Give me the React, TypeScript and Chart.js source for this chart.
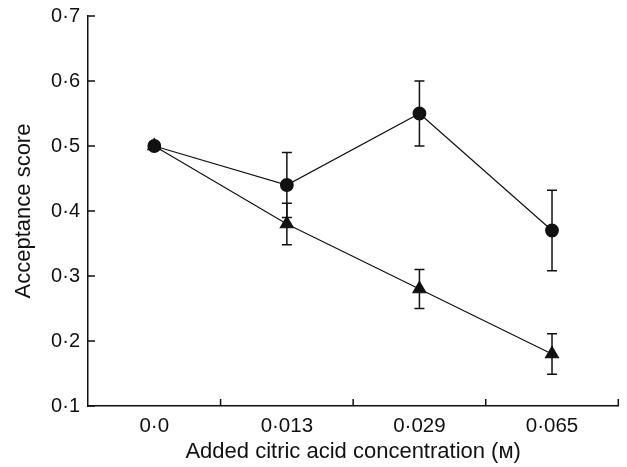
import React, { useEffect, useRef } from "react";
import { Chart, registerables } from "chart.js";

Chart.register(...registerables);

const categories = ["0·0", "0·013", "0·029", "0·065"];
const circleMeans = [0.5, 0.44, 0.55, 0.37];
const circleErrors = [0, 0.05, 0.05, 0.062];
const triangleMeans = [0.5, 0.38, 0.28, 0.18];
const triangleErrors = [0, 0.032, 0.03, 0.031];
const yMin = 0.1;
const yMax = 0.7;
const yStep = 0.1;

const FONT = "'Liberation Sans', Arial, Helvetica, sans-serif";
const INK = "#111";

const errorBarPlugin = {
  id: "errorBars",
  beforeDatasetsDraw(chart: any) {
    const { ctx } = chart;
    const yScale = chart.scales.y;
    const errs = [circleErrors, triangleErrors];
    ctx.save();
    ctx.strokeStyle = INK;
    ctx.lineWidth = 1.5;
    chart.data.datasets.forEach((ds: any, di: number) => {
      const meta = chart.getDatasetMeta(di);
      meta.data.forEach((pt: any, i: number) => {
        const e = errs[di][i];
        if (!e) return;
        const v = ds.data[i];
        const x = pt.x;
        const yt = yScale.getPixelForValue(v + e);
        const yb = yScale.getPixelForValue(v - e);
        const cap = 5;
        ctx.beginPath();
        ctx.moveTo(x, yt);
        ctx.lineTo(x, yb);
        ctx.moveTo(x - cap, yt);
        ctx.lineTo(x + cap, yt);
        ctx.moveTo(x - cap, yb);
        ctx.lineTo(x + cap, yb);
        ctx.stroke();
      });
    });
    ctx.restore();
  },
  afterDraw(chart: any) {
    const { ctx, chartArea } = chart;
    const x = chart.scales.x;
    const y = chart.scales.y;
    ctx.save();
    ctx.strokeStyle = INK;
    ctx.lineWidth = 1.5;
    ctx.beginPath();
    y.ticks.forEach((_t: any, i: number) => {
      const py = y.getPixelForTick(i);
      ctx.moveTo(chartArea.left, py);
      ctx.lineTo(chartArea.left + 7, py);
    });
    const n = categories.length;
    for (let i = 0; i < n; i++) {
      let px: number;
      if (i < n - 1) px = (x.getPixelForTick(i) + x.getPixelForTick(i + 1)) / 2;
      else px = chartArea.right;
      ctx.moveTo(px, chartArea.bottom);
      ctx.lineTo(px, chartArea.bottom - 7);
    }
    ctx.stroke();
    ctx.restore();
  },
};

export default function App() {
  const ref = useRef<HTMLCanvasElement>(null);
  useEffect(() => {
    if (!ref.current) return;
    const chart = new Chart(ref.current, {
      type: "line",
      data: {
        labels: categories,
        datasets: [
          {
            data: circleMeans,
            borderColor: INK,
            backgroundColor: INK,
            borderWidth: 1.2,
            pointStyle: "circle",
            pointRadius: 6.3,
            pointBackgroundColor: INK,
            pointBorderColor: INK,
            tension: 0,
          },
          {
            data: triangleMeans,
            borderColor: INK,
            backgroundColor: INK,
            borderWidth: 1.2,
            pointStyle: "triangle",
            pointRadius: 7.5,
            pointBackgroundColor: INK,
            pointBorderColor: INK,
            tension: 0,
          },
        ],
      },
      plugins: [errorBarPlugin],
      options: {
        responsive: false,
        animation: false,
        layout: { padding: { top: 16, right: 5, left: 0, bottom: 0 } },
        plugins: {
          legend: { display: false },
          tooltip: { enabled: false },
        },
        scales: {
          x: {
            type: "category",
            offset: true,
            grid: { display: false, drawTicks: false },
            border: { display: true, color: INK, width: 1.5 },
            ticks: {
              color: INK,
              font: { family: FONT, size: 20.5 },
              padding: 8,
              maxRotation: 0,
            },
            title: {
              display: true,
              text: "Added citric acid concentration (ᴍ)",
              color: INK,
              font: { family: FONT, size: 22 },
              padding: { top: 0, bottom: 2 },
            },
            afterFit(scale: any) {
              scale.height = 61;
              scale.paddingLeft = 0;
              scale.paddingRight = 0;
            },
          },
          y: {
            min: yMin,
            max: yMax,
            grid: { display: false, drawTicks: false },
            border: { display: true, color: INK, width: 1.5 },
            ticks: {
              stepSize: yStep,
              color: INK,
              font: { family: FONT, size: 20 },
              padding: 8,
              callback: (v: any) => Number(v).toFixed(1).replace(".", "·"),
            },
            title: {
              display: true,
              text: "Acceptance score",
              color: INK,
              font: { family: FONT, size: 22 },
              padding: { top: 11, bottom: 0 },
            },
            afterFit(scale: any) {
              scale.width = 88;
              scale.paddingTop = 0;
              scale.paddingBottom = 0;
            },
          },
        },
      },
    });
    return () => chart.destroy();
  }, []);
  return (
    <div style={{ position: "absolute", left: 0, top: 0, width: 627, height: 467, background: "#fff" }}>
      <canvas ref={ref} width={627} height={467} />
    </div>
  );
}
